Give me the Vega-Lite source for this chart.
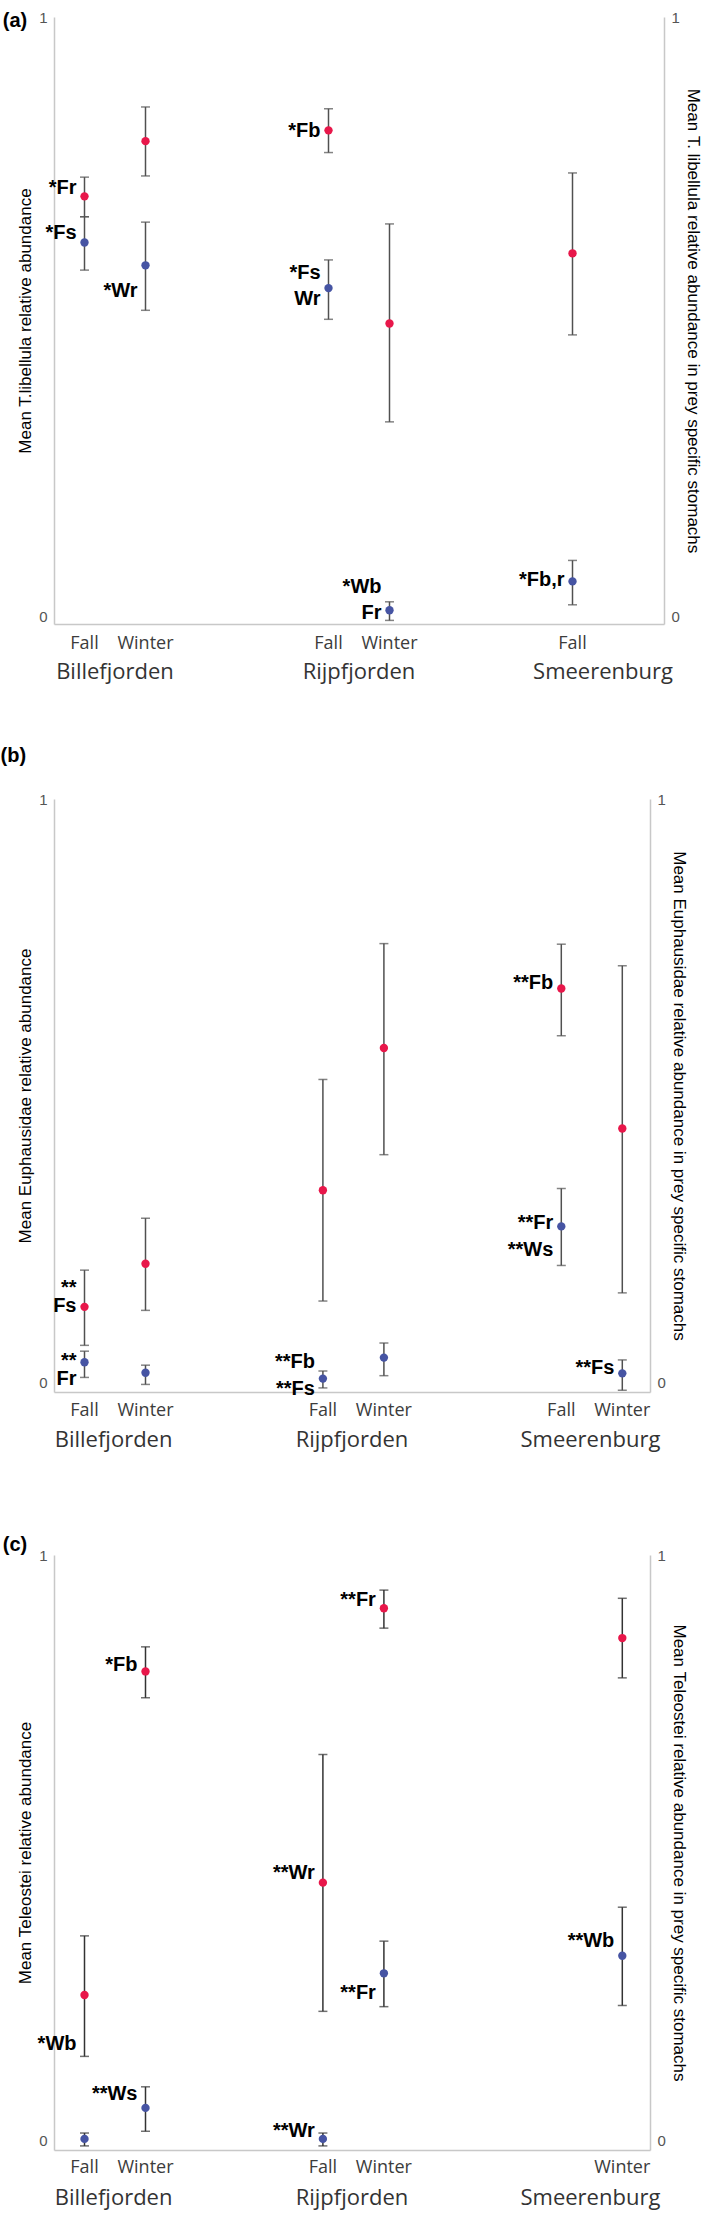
{
  "$schema": "https://vega.github.io/schema/vega-lite/v6.json",
  "padding": {"left": 0, "top": 10, "right": 0, "bottom": 6},
  "background": "white",
  "config": {
    "view": {"stroke": null},
    "axisX": {"grid": false, "ticks": false, "domainColor": "#c8c8c8", "domainWidth": 1.5, "labelAngle": 0, "labelFont": "Open Sans", "labelFontSize": 22, "labelColor": "#333333", "labelPadding": 37, "labelLimit": 0}
  },
  "datasets": {
    "a": [
      {"fjord": "Billefjorden", "season": "Fall", "series": "blue", "mean": 0.624, "lo": 0.578, "hi": 0.667},
      {"fjord": "Billefjorden", "season": "Fall", "series": "red", "mean": 0.701, "lo": 0.667, "hi": 0.733},
      {"fjord": "Billefjorden", "season": "Winter", "series": "blue", "mean": 0.586, "lo": 0.511, "hi": 0.658},
      {"fjord": "Billefjorden", "season": "Winter", "series": "red", "mean": 0.793, "lo": 0.735, "hi": 0.85},
      {"fjord": "Rijpfjorden", "season": "Fall", "series": "blue", "mean": 0.548, "lo": 0.496, "hi": 0.595},
      {"fjord": "Rijpfjorden", "season": "Fall", "series": "red", "mean": 0.811, "lo": 0.774, "hi": 0.847},
      {"fjord": "Rijpfjorden", "season": "Winter", "series": "blue", "mean": 0.011, "lo": -0.006, "hi": 0.025},
      {"fjord": "Rijpfjorden", "season": "Winter", "series": "red", "mean": 0.489, "lo": 0.325, "hi": 0.655},
      {"fjord": "Smeerenburg", "season": "Fall", "series": "blue", "mean": 0.059, "lo": 0.02, "hi": 0.094},
      {"fjord": "Smeerenburg", "season": "Fall", "series": "red", "mean": 0.606, "lo": 0.47, "hi": 0.74}
    ],
    "annA": [
      {"fjord": "Billefjorden", "season": "Fall", "label": "*Fr", "level": 0.715},
      {"fjord": "Billefjorden", "season": "Fall", "label": "*Fs", "level": 0.64},
      {"fjord": "Billefjorden", "season": "Winter", "label": "*Wr", "level": 0.544},
      {"fjord": "Rijpfjorden", "season": "Fall", "label": "*Fb", "level": 0.81},
      {"fjord": "Rijpfjorden", "season": "Fall", "label": "*Fs", "level": 0.574},
      {"fjord": "Rijpfjorden", "season": "Fall", "label": "Wr", "level": 0.53},
      {"fjord": "Rijpfjorden", "season": "Winter", "label": "*Wb", "level": 0.05},
      {"fjord": "Rijpfjorden", "season": "Winter", "label": "Fr", "level": 0.006},
      {"fjord": "Smeerenburg", "season": "Fall", "label": "*Fb,r", "level": 0.061}
    ],
    "b": [
      {"fjord": "Billefjorden", "season": "Fall", "series": "blue", "mean": 0.034, "lo": 0.008, "hi": 0.053},
      {"fjord": "Billefjorden", "season": "Fall", "series": "red", "mean": 0.129, "lo": 0.063, "hi": 0.192},
      {"fjord": "Billefjorden", "season": "Winter", "series": "blue", "mean": 0.016, "lo": -0.004, "hi": 0.029},
      {"fjord": "Billefjorden", "season": "Winter", "series": "red", "mean": 0.203, "lo": 0.123, "hi": 0.281},
      {"fjord": "Rijpfjorden", "season": "Fall", "series": "blue", "mean": 0.006, "lo": -0.01, "hi": 0.019},
      {"fjord": "Rijpfjorden", "season": "Fall", "series": "red", "mean": 0.329, "lo": 0.139, "hi": 0.519},
      {"fjord": "Rijpfjorden", "season": "Winter", "series": "blue", "mean": 0.042, "lo": 0.011, "hi": 0.067},
      {"fjord": "Rijpfjorden", "season": "Winter", "series": "red", "mean": 0.573, "lo": 0.39, "hi": 0.752},
      {"fjord": "Smeerenburg", "season": "Fall", "series": "blue", "mean": 0.267, "lo": 0.2, "hi": 0.332},
      {"fjord": "Smeerenburg", "season": "Fall", "series": "red", "mean": 0.675, "lo": 0.594, "hi": 0.751},
      {"fjord": "Smeerenburg", "season": "Winter", "series": "blue", "mean": 0.015, "lo": -0.014, "hi": 0.038},
      {"fjord": "Smeerenburg", "season": "Winter", "series": "red", "mean": 0.435, "lo": 0.153, "hi": 0.714}
    ],
    "annB": [
      {"fjord": "Billefjorden", "season": "Fall", "label": "**\nFs", "level": 0.161},
      {"fjord": "Billefjorden", "season": "Fall", "label": "**\nFr", "level": 0.036},
      {"fjord": "Rijpfjorden", "season": "Fall", "label": "**Fb", "level": 0.034},
      {"fjord": "Rijpfjorden", "season": "Fall", "label": "**Fs", "level": -0.012},
      {"fjord": "Smeerenburg", "season": "Fall", "label": "**Fb", "level": 0.685},
      {"fjord": "Smeerenburg", "season": "Fall", "label": "**Fr", "level": 0.273},
      {"fjord": "Smeerenburg", "season": "Fall", "label": "**Ws", "level": 0.227},
      {"fjord": "Smeerenburg", "season": "Winter", "label": "**Fs", "level": 0.024}
    ],
    "c": [
      {"fjord": "Billefjorden", "season": "Fall", "series": "blue", "mean": 0.002, "lo": -0.01, "hi": 0.012},
      {"fjord": "Billefjorden", "season": "Fall", "series": "red", "mean": 0.248, "lo": 0.143, "hi": 0.349},
      {"fjord": "Billefjorden", "season": "Winter", "series": "blue", "mean": 0.055, "lo": 0.015, "hi": 0.091},
      {"fjord": "Billefjorden", "season": "Winter", "series": "red", "mean": 0.801, "lo": 0.756, "hi": 0.843},
      {"fjord": "Rijpfjorden", "season": "Fall", "series": "blue", "mean": 0.002, "lo": -0.01, "hi": 0.012},
      {"fjord": "Rijpfjorden", "season": "Fall", "series": "red", "mean": 0.44, "lo": 0.22, "hi": 0.659},
      {"fjord": "Rijpfjorden", "season": "Winter", "series": "blue", "mean": 0.285, "lo": 0.228, "hi": 0.34},
      {"fjord": "Rijpfjorden", "season": "Winter", "series": "red", "mean": 0.909, "lo": 0.875, "hi": 0.94},
      {"fjord": "Smeerenburg", "season": "Winter", "series": "blue", "mean": 0.315, "lo": 0.23, "hi": 0.398},
      {"fjord": "Smeerenburg", "season": "Winter", "series": "red", "mean": 0.858, "lo": 0.79, "hi": 0.926}
    ],
    "annC": [
      {"fjord": "Billefjorden", "season": "Winter", "label": "*Fb", "level": 0.812},
      {"fjord": "Billefjorden", "season": "Fall", "label": "*Wb", "level": 0.164},
      {"fjord": "Billefjorden", "season": "Winter", "label": "**Ws", "level": 0.078},
      {"fjord": "Rijpfjorden", "season": "Fall", "label": "**Wr", "level": 0.456},
      {"fjord": "Rijpfjorden", "season": "Fall", "label": "**Wr", "level": 0.016},
      {"fjord": "Rijpfjorden", "season": "Winter", "label": "**Fr", "level": 0.923},
      {"fjord": "Rijpfjorden", "season": "Winter", "label": "**Fr", "level": 0.252},
      {"fjord": "Smeerenburg", "season": "Winter", "label": "**Wb", "level": 0.341}
    ]
  },
  "spacing": 64,
  "vconcat": [
    {
      "title": {"text": "(a)", "orient": "left", "anchor": "end", "frame": "group", "angle": 0, "align": "right", "baseline": "middle", "offset": -9, "dx": 26, "dy": 4, "font": "Liberation Sans", "fontSize": 20, "fontWeight": "bold", "color": "#000000"},
      "width": 610,
      "height": 607,
      "data": {"name": "a"},
      "resolve": {"scale": {"y": "independent"}},
      "layer": [
        {
          "layer": [
            {"transform": [{"filter": "datum.series === 'blue'"}], "mark": {"type": "rule", "color": "#505050", "strokeWidth": 1.5},
             "encoding": {"x": {"field": "fjord", "type": "nominal", "title": null, "scale": {"domain": ["Billefjorden", "Rijpfjorden", "Smeerenburg"], "paddingInner": 0.5, "paddingOuter": 0}},
                          "xOffset": {"field": "season", "type": "nominal", "title": null, "scale": {"type": "point", "domain": ["Fall", "Winter"], "padding": 0.5}},
                          "y": {"field": "lo", "type": "quantitative", "scale": {"domain": [-0.012, 1], "nice": false, "zero": false}, "axis": {"orient": "left", "values": [0, 1], "format": "d", "title": "Mean T.libellula relative abundance", "grid": false, "ticks": false, "domainColor": "#c8c8c8", "domainWidth": 1.5, "labelFont": "Liberation Sans", "labelFontSize": 15, "labelColor": "#555555", "labelPadding": 7, "labelFlush": false, "titleFont": "Liberation Sans", "titleFontSize": 17, "titleFontWeight": "normal", "titleColor": "#000000", "titlePadding": 4}},
                          "y2": {"field": "hi"}}},
            {"transform": [{"filter": "datum.series === 'blue'"}], "mark": {"type": "tick", "orient": "horizontal", "size": 9, "thickness": 1.5, "color": "#505050"},
             "encoding": {"x": {"field": "fjord", "type": "nominal", "title": null, "scale": {"domain": ["Billefjorden", "Rijpfjorden", "Smeerenburg"], "paddingInner": 0.5, "paddingOuter": 0}},
                          "xOffset": {"field": "season", "type": "nominal", "title": null, "scale": {"type": "point", "domain": ["Fall", "Winter"], "padding": 0.5}},
                          "y": {"field": "lo", "type": "quantitative", "scale": {"domain": [-0.012, 1], "nice": false, "zero": false}, "axis": {"orient": "left", "values": [0, 1], "format": "d", "title": "Mean T.libellula relative abundance", "grid": false, "ticks": false, "domainColor": "#c8c8c8", "domainWidth": 1.5, "labelFont": "Liberation Sans", "labelFontSize": 15, "labelColor": "#555555", "labelPadding": 7, "labelFlush": false, "titleFont": "Liberation Sans", "titleFontSize": 17, "titleFontWeight": "normal", "titleColor": "#000000", "titlePadding": 4}}}},
            {"transform": [{"filter": "datum.series === 'blue'"}], "mark": {"type": "tick", "orient": "horizontal", "size": 9, "thickness": 1.5, "color": "#505050"},
             "encoding": {"x": {"field": "fjord", "type": "nominal", "title": null, "scale": {"domain": ["Billefjorden", "Rijpfjorden", "Smeerenburg"], "paddingInner": 0.5, "paddingOuter": 0}},
                          "xOffset": {"field": "season", "type": "nominal", "title": null, "scale": {"type": "point", "domain": ["Fall", "Winter"], "padding": 0.5}},
                          "y": {"field": "hi", "type": "quantitative", "scale": {"domain": [-0.012, 1], "nice": false, "zero": false}, "axis": {"orient": "left", "values": [0, 1], "format": "d", "title": "Mean T.libellula relative abundance", "grid": false, "ticks": false, "domainColor": "#c8c8c8", "domainWidth": 1.5, "labelFont": "Liberation Sans", "labelFontSize": 15, "labelColor": "#555555", "labelPadding": 7, "labelFlush": false, "titleFont": "Liberation Sans", "titleFontSize": 17, "titleFontWeight": "normal", "titleColor": "#000000", "titlePadding": 4}}}},
            {"transform": [{"filter": "datum.series === 'blue'"}], "mark": {"type": "circle", "size": 70, "color": "#4654a3", "opacity": 1},
             "encoding": {"x": {"field": "fjord", "type": "nominal", "title": null, "scale": {"domain": ["Billefjorden", "Rijpfjorden", "Smeerenburg"], "paddingInner": 0.5, "paddingOuter": 0}},
                          "xOffset": {"field": "season", "type": "nominal", "title": null, "scale": {"type": "point", "domain": ["Fall", "Winter"], "padding": 0.5}},
                          "y": {"field": "mean", "type": "quantitative", "scale": {"domain": [-0.012, 1], "nice": false, "zero": false}, "axis": {"orient": "left", "values": [0, 1], "format": "d", "title": "Mean T.libellula relative abundance", "grid": false, "ticks": false, "domainColor": "#c8c8c8", "domainWidth": 1.5, "labelFont": "Liberation Sans", "labelFontSize": 15, "labelColor": "#555555", "labelPadding": 7, "labelFlush": false, "titleFont": "Liberation Sans", "titleFontSize": 17, "titleFontWeight": "normal", "titleColor": "#000000", "titlePadding": 4}}}},
            {"transform": [{"filter": "datum.series === 'blue'"}], "mark": {"type": "text", "dy": 27, "baseline": "middle", "font": "Open Sans", "fontSize": 18, "color": "#3c3c3c"},
             "encoding": {"x": {"field": "fjord", "type": "nominal", "title": null, "scale": {"domain": ["Billefjorden", "Rijpfjorden", "Smeerenburg"], "paddingInner": 0.5, "paddingOuter": 0}},
                          "xOffset": {"field": "season", "type": "nominal", "title": null, "scale": {"type": "point", "domain": ["Fall", "Winter"], "padding": 0.5}},
                          "y": {"datum": 0, "type": "quantitative", "scale": {"domain": [-0.012, 1], "nice": false, "zero": false}, "axis": {"orient": "left", "values": [0, 1], "format": "d", "title": "Mean T.libellula relative abundance", "grid": false, "ticks": false, "domainColor": "#c8c8c8", "domainWidth": 1.5, "labelFont": "Liberation Sans", "labelFontSize": 15, "labelColor": "#555555", "labelPadding": 7, "labelFlush": false, "titleFont": "Liberation Sans", "titleFontSize": 17, "titleFontWeight": "normal", "titleColor": "#000000", "titlePadding": 4}},
                          "text": {"field": "season"}}},
            {"data": {"name": "annA"}, "mark": {"type": "text", "align": "right", "dx": -8, "baseline": "middle", "font": "Liberation Sans", "fontSize": 20, "fontWeight": "bold", "color": "#000000", "lineBreak": "\n", "lineHeight": 20},
             "encoding": {"x": {"field": "fjord", "type": "nominal", "title": null, "scale": {"domain": ["Billefjorden", "Rijpfjorden", "Smeerenburg"], "paddingInner": 0.5, "paddingOuter": 0}},
                          "xOffset": {"field": "season", "type": "nominal", "title": null, "scale": {"type": "point", "domain": ["Fall", "Winter"], "padding": 0.5}},
                          "y": {"field": "level", "type": "quantitative", "scale": {"domain": [-0.012, 1], "nice": false, "zero": false}, "axis": {"orient": "left", "values": [0, 1], "format": "d", "title": "Mean T.libellula relative abundance", "grid": false, "ticks": false, "domainColor": "#c8c8c8", "domainWidth": 1.5, "labelFont": "Liberation Sans", "labelFontSize": 15, "labelColor": "#555555", "labelPadding": 7, "labelFlush": false, "titleFont": "Liberation Sans", "titleFontSize": 17, "titleFontWeight": "normal", "titleColor": "#000000", "titlePadding": 4}},
                          "text": {"field": "label"}}}
          ]
        },
        {
          "layer": [
            {"transform": [{"filter": "datum.series === 'red'"}], "mark": {"type": "rule", "color": "#505050", "strokeWidth": 1.5},
             "encoding": {"x": {"field": "fjord", "type": "nominal", "title": null, "scale": {"domain": ["Billefjorden", "Rijpfjorden", "Smeerenburg"], "paddingInner": 0.5, "paddingOuter": 0}},
                          "xOffset": {"field": "season", "type": "nominal", "title": null, "scale": {"type": "point", "domain": ["Fall", "Winter"], "padding": 0.5}},
                          "y": {"field": "lo", "type": "quantitative", "scale": {"domain": [-0.012, 1], "nice": false, "zero": false}, "axis": {"orient": "right", "values": [0, 1], "format": "d", "title": "Mean T. libellula relative abundance in prey specific stomachs", "grid": false, "ticks": false, "domainColor": "#c8c8c8", "domainWidth": 1.5, "labelFont": "Liberation Sans", "labelFontSize": 15, "labelColor": "#555555", "labelPadding": 7, "labelFlush": false, "titleFont": "Liberation Sans", "titleFontSize": 17, "titleFontWeight": "normal", "titleColor": "#000000", "titlePadding": 4}},
                          "y2": {"field": "hi"}}},
            {"transform": [{"filter": "datum.series === 'red'"}], "mark": {"type": "tick", "orient": "horizontal", "size": 9, "thickness": 1.5, "color": "#505050"},
             "encoding": {"x": {"field": "fjord", "type": "nominal", "title": null, "scale": {"domain": ["Billefjorden", "Rijpfjorden", "Smeerenburg"], "paddingInner": 0.5, "paddingOuter": 0}},
                          "xOffset": {"field": "season", "type": "nominal", "title": null, "scale": {"type": "point", "domain": ["Fall", "Winter"], "padding": 0.5}},
                          "y": {"field": "lo", "type": "quantitative", "scale": {"domain": [-0.012, 1], "nice": false, "zero": false}, "axis": {"orient": "right", "values": [0, 1], "format": "d", "title": "Mean T. libellula relative abundance in prey specific stomachs", "grid": false, "ticks": false, "domainColor": "#c8c8c8", "domainWidth": 1.5, "labelFont": "Liberation Sans", "labelFontSize": 15, "labelColor": "#555555", "labelPadding": 7, "labelFlush": false, "titleFont": "Liberation Sans", "titleFontSize": 17, "titleFontWeight": "normal", "titleColor": "#000000", "titlePadding": 4}}}},
            {"transform": [{"filter": "datum.series === 'red'"}], "mark": {"type": "tick", "orient": "horizontal", "size": 9, "thickness": 1.5, "color": "#505050"},
             "encoding": {"x": {"field": "fjord", "type": "nominal", "title": null, "scale": {"domain": ["Billefjorden", "Rijpfjorden", "Smeerenburg"], "paddingInner": 0.5, "paddingOuter": 0}},
                          "xOffset": {"field": "season", "type": "nominal", "title": null, "scale": {"type": "point", "domain": ["Fall", "Winter"], "padding": 0.5}},
                          "y": {"field": "hi", "type": "quantitative", "scale": {"domain": [-0.012, 1], "nice": false, "zero": false}, "axis": {"orient": "right", "values": [0, 1], "format": "d", "title": "Mean T. libellula relative abundance in prey specific stomachs", "grid": false, "ticks": false, "domainColor": "#c8c8c8", "domainWidth": 1.5, "labelFont": "Liberation Sans", "labelFontSize": 15, "labelColor": "#555555", "labelPadding": 7, "labelFlush": false, "titleFont": "Liberation Sans", "titleFontSize": 17, "titleFontWeight": "normal", "titleColor": "#000000", "titlePadding": 4}}}},
            {"transform": [{"filter": "datum.series === 'red'"}], "mark": {"type": "circle", "size": 70, "color": "#e8174a", "opacity": 1},
             "encoding": {"x": {"field": "fjord", "type": "nominal", "title": null, "scale": {"domain": ["Billefjorden", "Rijpfjorden", "Smeerenburg"], "paddingInner": 0.5, "paddingOuter": 0}},
                          "xOffset": {"field": "season", "type": "nominal", "title": null, "scale": {"type": "point", "domain": ["Fall", "Winter"], "padding": 0.5}},
                          "y": {"field": "mean", "type": "quantitative", "scale": {"domain": [-0.012, 1], "nice": false, "zero": false}, "axis": {"orient": "right", "values": [0, 1], "format": "d", "title": "Mean T. libellula relative abundance in prey specific stomachs", "grid": false, "ticks": false, "domainColor": "#c8c8c8", "domainWidth": 1.5, "labelFont": "Liberation Sans", "labelFontSize": 15, "labelColor": "#555555", "labelPadding": 7, "labelFlush": false, "titleFont": "Liberation Sans", "titleFontSize": 17, "titleFontWeight": "normal", "titleColor": "#000000", "titlePadding": 4}}}}
          ]
        }
      ]
    },
    {
      "spacing": 85,
      "vconcat": [
        {
          "title": {"text": "(b)", "orient": "left", "anchor": "end", "frame": "group", "angle": 0, "align": "right", "baseline": "middle", "offset": -9, "dx": 26, "dy": -43, "font": "Liberation Sans", "fontSize": 20, "fontWeight": "bold", "color": "#000000"},
          "width": 596,
          "height": 593,
          "data": {"name": "b"},
          "resolve": {"scale": {"y": "independent"}},
          "layer": [
            {
              "layer": [
                {"transform": [{"filter": "datum.series === 'blue'"}], "mark": {"type": "rule", "color": "#505050", "strokeWidth": 1.5},
                 "encoding": {"x": {"field": "fjord", "type": "nominal", "title": null, "scale": {"domain": ["Billefjorden", "Rijpfjorden", "Smeerenburg"], "paddingInner": 0.5, "paddingOuter": 0}},
                              "xOffset": {"field": "season", "type": "nominal", "title": null, "scale": {"type": "point", "domain": ["Fall", "Winter"], "padding": 0.5}},
                              "y": {"field": "lo", "type": "quantitative", "scale": {"domain": [-0.017, 1], "nice": false, "zero": false}, "axis": {"orient": "left", "values": [0, 1], "format": "d", "title": "Mean Euphausidae relative abundance", "grid": false, "ticks": false, "domainColor": "#c8c8c8", "domainWidth": 1.5, "labelFont": "Liberation Sans", "labelFontSize": 15, "labelColor": "#555555", "labelPadding": 7, "labelFlush": false, "titleFont": "Liberation Sans", "titleFontSize": 17, "titleFontWeight": "normal", "titleColor": "#000000", "titlePadding": 4}},
                              "y2": {"field": "hi"}}},
                {"transform": [{"filter": "datum.series === 'blue'"}], "mark": {"type": "tick", "orient": "horizontal", "size": 9, "thickness": 1.5, "color": "#505050"},
                 "encoding": {"x": {"field": "fjord", "type": "nominal", "title": null, "scale": {"domain": ["Billefjorden", "Rijpfjorden", "Smeerenburg"], "paddingInner": 0.5, "paddingOuter": 0}},
                              "xOffset": {"field": "season", "type": "nominal", "title": null, "scale": {"type": "point", "domain": ["Fall", "Winter"], "padding": 0.5}},
                              "y": {"field": "lo", "type": "quantitative", "scale": {"domain": [-0.017, 1], "nice": false, "zero": false}, "axis": {"orient": "left", "values": [0, 1], "format": "d", "title": "Mean Euphausidae relative abundance", "grid": false, "ticks": false, "domainColor": "#c8c8c8", "domainWidth": 1.5, "labelFont": "Liberation Sans", "labelFontSize": 15, "labelColor": "#555555", "labelPadding": 7, "labelFlush": false, "titleFont": "Liberation Sans", "titleFontSize": 17, "titleFontWeight": "normal", "titleColor": "#000000", "titlePadding": 4}}}},
                {"transform": [{"filter": "datum.series === 'blue'"}], "mark": {"type": "tick", "orient": "horizontal", "size": 9, "thickness": 1.5, "color": "#505050"},
                 "encoding": {"x": {"field": "fjord", "type": "nominal", "title": null, "scale": {"domain": ["Billefjorden", "Rijpfjorden", "Smeerenburg"], "paddingInner": 0.5, "paddingOuter": 0}},
                              "xOffset": {"field": "season", "type": "nominal", "title": null, "scale": {"type": "point", "domain": ["Fall", "Winter"], "padding": 0.5}},
                              "y": {"field": "hi", "type": "quantitative", "scale": {"domain": [-0.017, 1], "nice": false, "zero": false}, "axis": {"orient": "left", "values": [0, 1], "format": "d", "title": "Mean Euphausidae relative abundance", "grid": false, "ticks": false, "domainColor": "#c8c8c8", "domainWidth": 1.5, "labelFont": "Liberation Sans", "labelFontSize": 15, "labelColor": "#555555", "labelPadding": 7, "labelFlush": false, "titleFont": "Liberation Sans", "titleFontSize": 17, "titleFontWeight": "normal", "titleColor": "#000000", "titlePadding": 4}}}},
                {"transform": [{"filter": "datum.series === 'blue'"}], "mark": {"type": "circle", "size": 70, "color": "#4654a3", "opacity": 1},
                 "encoding": {"x": {"field": "fjord", "type": "nominal", "title": null, "scale": {"domain": ["Billefjorden", "Rijpfjorden", "Smeerenburg"], "paddingInner": 0.5, "paddingOuter": 0}},
                              "xOffset": {"field": "season", "type": "nominal", "title": null, "scale": {"type": "point", "domain": ["Fall", "Winter"], "padding": 0.5}},
                              "y": {"field": "mean", "type": "quantitative", "scale": {"domain": [-0.017, 1], "nice": false, "zero": false}, "axis": {"orient": "left", "values": [0, 1], "format": "d", "title": "Mean Euphausidae relative abundance", "grid": false, "ticks": false, "domainColor": "#c8c8c8", "domainWidth": 1.5, "labelFont": "Liberation Sans", "labelFontSize": 15, "labelColor": "#555555", "labelPadding": 7, "labelFlush": false, "titleFont": "Liberation Sans", "titleFontSize": 17, "titleFontWeight": "normal", "titleColor": "#000000", "titlePadding": 4}}}},
                {"transform": [{"filter": "datum.series === 'blue'"}], "mark": {"type": "text", "dy": 29, "baseline": "middle", "font": "Open Sans", "fontSize": 18, "color": "#3c3c3c"},
                 "encoding": {"x": {"field": "fjord", "type": "nominal", "title": null, "scale": {"domain": ["Billefjorden", "Rijpfjorden", "Smeerenburg"], "paddingInner": 0.5, "paddingOuter": 0}},
                              "xOffset": {"field": "season", "type": "nominal", "title": null, "scale": {"type": "point", "domain": ["Fall", "Winter"], "padding": 0.5}},
                              "y": {"datum": 0, "type": "quantitative", "scale": {"domain": [-0.017, 1], "nice": false, "zero": false}, "axis": {"orient": "left", "values": [0, 1], "format": "d", "title": "Mean Euphausidae relative abundance", "grid": false, "ticks": false, "domainColor": "#c8c8c8", "domainWidth": 1.5, "labelFont": "Liberation Sans", "labelFontSize": 15, "labelColor": "#555555", "labelPadding": 7, "labelFlush": false, "titleFont": "Liberation Sans", "titleFontSize": 17, "titleFontWeight": "normal", "titleColor": "#000000", "titlePadding": 4}},
                              "text": {"field": "season"}}},
                {"data": {"name": "annB"}, "mark": {"type": "text", "align": "right", "dx": -8, "baseline": "middle", "font": "Liberation Sans", "fontSize": 20, "fontWeight": "bold", "color": "#000000", "lineBreak": "\n", "lineHeight": 18},
                 "encoding": {"x": {"field": "fjord", "type": "nominal", "title": null, "scale": {"domain": ["Billefjorden", "Rijpfjorden", "Smeerenburg"], "paddingInner": 0.5, "paddingOuter": 0}},
                              "xOffset": {"field": "season", "type": "nominal", "title": null, "scale": {"type": "point", "domain": ["Fall", "Winter"], "padding": 0.5}},
                              "y": {"field": "level", "type": "quantitative", "scale": {"domain": [-0.017, 1], "nice": false, "zero": false}, "axis": {"orient": "left", "values": [0, 1], "format": "d", "title": "Mean Euphausidae relative abundance", "grid": false, "ticks": false, "domainColor": "#c8c8c8", "domainWidth": 1.5, "labelFont": "Liberation Sans", "labelFontSize": 15, "labelColor": "#555555", "labelPadding": 7, "labelFlush": false, "titleFont": "Liberation Sans", "titleFontSize": 17, "titleFontWeight": "normal", "titleColor": "#000000", "titlePadding": 4}},
                              "text": {"field": "label"}}}
              ]
            },
            {
              "layer": [
                {"transform": [{"filter": "datum.series === 'red'"}], "mark": {"type": "rule", "color": "#505050", "strokeWidth": 1.5},
                 "encoding": {"x": {"field": "fjord", "type": "nominal", "title": null, "scale": {"domain": ["Billefjorden", "Rijpfjorden", "Smeerenburg"], "paddingInner": 0.5, "paddingOuter": 0}},
                              "xOffset": {"field": "season", "type": "nominal", "title": null, "scale": {"type": "point", "domain": ["Fall", "Winter"], "padding": 0.5}},
                              "y": {"field": "lo", "type": "quantitative", "scale": {"domain": [-0.017, 1], "nice": false, "zero": false}, "axis": {"orient": "right", "values": [0, 1], "format": "d", "title": "Mean Euphausidae relative abundance in prey specific stomachs", "grid": false, "ticks": false, "domainColor": "#c8c8c8", "domainWidth": 1.5, "labelFont": "Liberation Sans", "labelFontSize": 15, "labelColor": "#555555", "labelPadding": 7, "labelFlush": false, "titleFont": "Liberation Sans", "titleFontSize": 17, "titleFontWeight": "normal", "titleColor": "#000000", "titlePadding": 4}},
                              "y2": {"field": "hi"}}},
                {"transform": [{"filter": "datum.series === 'red'"}], "mark": {"type": "tick", "orient": "horizontal", "size": 9, "thickness": 1.5, "color": "#505050"},
                 "encoding": {"x": {"field": "fjord", "type": "nominal", "title": null, "scale": {"domain": ["Billefjorden", "Rijpfjorden", "Smeerenburg"], "paddingInner": 0.5, "paddingOuter": 0}},
                              "xOffset": {"field": "season", "type": "nominal", "title": null, "scale": {"type": "point", "domain": ["Fall", "Winter"], "padding": 0.5}},
                              "y": {"field": "lo", "type": "quantitative", "scale": {"domain": [-0.017, 1], "nice": false, "zero": false}, "axis": {"orient": "right", "values": [0, 1], "format": "d", "title": "Mean Euphausidae relative abundance in prey specific stomachs", "grid": false, "ticks": false, "domainColor": "#c8c8c8", "domainWidth": 1.5, "labelFont": "Liberation Sans", "labelFontSize": 15, "labelColor": "#555555", "labelPadding": 7, "labelFlush": false, "titleFont": "Liberation Sans", "titleFontSize": 17, "titleFontWeight": "normal", "titleColor": "#000000", "titlePadding": 4}}}},
                {"transform": [{"filter": "datum.series === 'red'"}], "mark": {"type": "tick", "orient": "horizontal", "size": 9, "thickness": 1.5, "color": "#505050"},
                 "encoding": {"x": {"field": "fjord", "type": "nominal", "title": null, "scale": {"domain": ["Billefjorden", "Rijpfjorden", "Smeerenburg"], "paddingInner": 0.5, "paddingOuter": 0}},
                              "xOffset": {"field": "season", "type": "nominal", "title": null, "scale": {"type": "point", "domain": ["Fall", "Winter"], "padding": 0.5}},
                              "y": {"field": "hi", "type": "quantitative", "scale": {"domain": [-0.017, 1], "nice": false, "zero": false}, "axis": {"orient": "right", "values": [0, 1], "format": "d", "title": "Mean Euphausidae relative abundance in prey specific stomachs", "grid": false, "ticks": false, "domainColor": "#c8c8c8", "domainWidth": 1.5, "labelFont": "Liberation Sans", "labelFontSize": 15, "labelColor": "#555555", "labelPadding": 7, "labelFlush": false, "titleFont": "Liberation Sans", "titleFontSize": 17, "titleFontWeight": "normal", "titleColor": "#000000", "titlePadding": 4}}}},
                {"transform": [{"filter": "datum.series === 'red'"}], "mark": {"type": "circle", "size": 70, "color": "#e8174a", "opacity": 1},
                 "encoding": {"x": {"field": "fjord", "type": "nominal", "title": null, "scale": {"domain": ["Billefjorden", "Rijpfjorden", "Smeerenburg"], "paddingInner": 0.5, "paddingOuter": 0}},
                              "xOffset": {"field": "season", "type": "nominal", "title": null, "scale": {"type": "point", "domain": ["Fall", "Winter"], "padding": 0.5}},
                              "y": {"field": "mean", "type": "quantitative", "scale": {"domain": [-0.017, 1], "nice": false, "zero": false}, "axis": {"orient": "right", "values": [0, 1], "format": "d", "title": "Mean Euphausidae relative abundance in prey specific stomachs", "grid": false, "ticks": false, "domainColor": "#c8c8c8", "domainWidth": 1.5, "labelFont": "Liberation Sans", "labelFontSize": 15, "labelColor": "#555555", "labelPadding": 7, "labelFlush": false, "titleFont": "Liberation Sans", "titleFontSize": 17, "titleFontWeight": "normal", "titleColor": "#000000", "titlePadding": 4}}}}
              ]
            }
          ]
        },
        {
          "title": {"text": "(c)", "orient": "left", "anchor": "end", "frame": "group", "angle": 0, "align": "right", "baseline": "middle", "offset": -9, "dx": 26, "dy": -10, "font": "Liberation Sans", "fontSize": 20, "fontWeight": "bold", "color": "#000000"},
          "width": 596,
          "height": 595,
          "data": {"name": "c"},
          "resolve": {"scale": {"y": "independent"}},
          "layer": [
            {
              "layer": [
                {"transform": [{"filter": "datum.series === 'blue'"}], "mark": {"type": "rule", "color": "#333333", "strokeWidth": 1.5},
                 "encoding": {"x": {"field": "fjord", "type": "nominal", "title": null, "scale": {"domain": ["Billefjorden", "Rijpfjorden", "Smeerenburg"], "paddingInner": 0.5, "paddingOuter": 0}},
                              "xOffset": {"field": "season", "type": "nominal", "title": null, "scale": {"type": "point", "domain": ["Fall", "Winter"], "padding": 0.5}},
                              "y": {"field": "lo", "type": "quantitative", "scale": {"domain": [-0.017, 1], "nice": false, "zero": false}, "axis": {"orient": "left", "values": [0, 1], "format": "d", "title": "Mean Teleostei relative abundance", "grid": false, "ticks": false, "domainColor": "#c8c8c8", "domainWidth": 1.5, "labelFont": "Liberation Sans", "labelFontSize": 15, "labelColor": "#555555", "labelPadding": 7, "labelFlush": false, "titleFont": "Liberation Sans", "titleFontSize": 17, "titleFontWeight": "normal", "titleColor": "#000000", "titlePadding": 4}},
                              "y2": {"field": "hi"}}},
                {"transform": [{"filter": "datum.series === 'blue'"}], "mark": {"type": "tick", "orient": "horizontal", "size": 9, "thickness": 1.5, "color": "#333333"},
                 "encoding": {"x": {"field": "fjord", "type": "nominal", "title": null, "scale": {"domain": ["Billefjorden", "Rijpfjorden", "Smeerenburg"], "paddingInner": 0.5, "paddingOuter": 0}},
                              "xOffset": {"field": "season", "type": "nominal", "title": null, "scale": {"type": "point", "domain": ["Fall", "Winter"], "padding": 0.5}},
                              "y": {"field": "lo", "type": "quantitative", "scale": {"domain": [-0.017, 1], "nice": false, "zero": false}, "axis": {"orient": "left", "values": [0, 1], "format": "d", "title": "Mean Teleostei relative abundance", "grid": false, "ticks": false, "domainColor": "#c8c8c8", "domainWidth": 1.5, "labelFont": "Liberation Sans", "labelFontSize": 15, "labelColor": "#555555", "labelPadding": 7, "labelFlush": false, "titleFont": "Liberation Sans", "titleFontSize": 17, "titleFontWeight": "normal", "titleColor": "#000000", "titlePadding": 4}}}},
                {"transform": [{"filter": "datum.series === 'blue'"}], "mark": {"type": "tick", "orient": "horizontal", "size": 9, "thickness": 1.5, "color": "#333333"},
                 "encoding": {"x": {"field": "fjord", "type": "nominal", "title": null, "scale": {"domain": ["Billefjorden", "Rijpfjorden", "Smeerenburg"], "paddingInner": 0.5, "paddingOuter": 0}},
                              "xOffset": {"field": "season", "type": "nominal", "title": null, "scale": {"type": "point", "domain": ["Fall", "Winter"], "padding": 0.5}},
                              "y": {"field": "hi", "type": "quantitative", "scale": {"domain": [-0.017, 1], "nice": false, "zero": false}, "axis": {"orient": "left", "values": [0, 1], "format": "d", "title": "Mean Teleostei relative abundance", "grid": false, "ticks": false, "domainColor": "#c8c8c8", "domainWidth": 1.5, "labelFont": "Liberation Sans", "labelFontSize": 15, "labelColor": "#555555", "labelPadding": 7, "labelFlush": false, "titleFont": "Liberation Sans", "titleFontSize": 17, "titleFontWeight": "normal", "titleColor": "#000000", "titlePadding": 4}}}},
                {"transform": [{"filter": "datum.series === 'blue'"}], "mark": {"type": "circle", "size": 70, "color": "#4654a3", "opacity": 1},
                 "encoding": {"x": {"field": "fjord", "type": "nominal", "title": null, "scale": {"domain": ["Billefjorden", "Rijpfjorden", "Smeerenburg"], "paddingInner": 0.5, "paddingOuter": 0}},
                              "xOffset": {"field": "season", "type": "nominal", "title": null, "scale": {"type": "point", "domain": ["Fall", "Winter"], "padding": 0.5}},
                              "y": {"field": "mean", "type": "quantitative", "scale": {"domain": [-0.017, 1], "nice": false, "zero": false}, "axis": {"orient": "left", "values": [0, 1], "format": "d", "title": "Mean Teleostei relative abundance", "grid": false, "ticks": false, "domainColor": "#c8c8c8", "domainWidth": 1.5, "labelFont": "Liberation Sans", "labelFontSize": 15, "labelColor": "#555555", "labelPadding": 7, "labelFlush": false, "titleFont": "Liberation Sans", "titleFontSize": 17, "titleFontWeight": "normal", "titleColor": "#000000", "titlePadding": 4}}}},
                {"transform": [{"filter": "datum.series === 'blue'"}], "mark": {"type": "text", "dy": 28, "baseline": "middle", "font": "Open Sans", "fontSize": 18, "color": "#3c3c3c"},
                 "encoding": {"x": {"field": "fjord", "type": "nominal", "title": null, "scale": {"domain": ["Billefjorden", "Rijpfjorden", "Smeerenburg"], "paddingInner": 0.5, "paddingOuter": 0}},
                              "xOffset": {"field": "season", "type": "nominal", "title": null, "scale": {"type": "point", "domain": ["Fall", "Winter"], "padding": 0.5}},
                              "y": {"datum": 0, "type": "quantitative", "scale": {"domain": [-0.017, 1], "nice": false, "zero": false}, "axis": {"orient": "left", "values": [0, 1], "format": "d", "title": "Mean Teleostei relative abundance", "grid": false, "ticks": false, "domainColor": "#c8c8c8", "domainWidth": 1.5, "labelFont": "Liberation Sans", "labelFontSize": 15, "labelColor": "#555555", "labelPadding": 7, "labelFlush": false, "titleFont": "Liberation Sans", "titleFontSize": 17, "titleFontWeight": "normal", "titleColor": "#000000", "titlePadding": 4}},
                              "text": {"field": "season"}}},
                {"data": {"name": "annC"}, "mark": {"type": "text", "align": "right", "dx": -8, "baseline": "middle", "font": "Liberation Sans", "fontSize": 20, "fontWeight": "bold", "color": "#000000", "lineBreak": "\n", "lineHeight": 18},
                 "encoding": {"x": {"field": "fjord", "type": "nominal", "title": null, "scale": {"domain": ["Billefjorden", "Rijpfjorden", "Smeerenburg"], "paddingInner": 0.5, "paddingOuter": 0}},
                              "xOffset": {"field": "season", "type": "nominal", "title": null, "scale": {"type": "point", "domain": ["Fall", "Winter"], "padding": 0.5}},
                              "y": {"field": "level", "type": "quantitative", "scale": {"domain": [-0.017, 1], "nice": false, "zero": false}, "axis": {"orient": "left", "values": [0, 1], "format": "d", "title": "Mean Teleostei relative abundance", "grid": false, "ticks": false, "domainColor": "#c8c8c8", "domainWidth": 1.5, "labelFont": "Liberation Sans", "labelFontSize": 15, "labelColor": "#555555", "labelPadding": 7, "labelFlush": false, "titleFont": "Liberation Sans", "titleFontSize": 17, "titleFontWeight": "normal", "titleColor": "#000000", "titlePadding": 4}},
                              "text": {"field": "label"}}}
              ]
            },
            {
              "layer": [
                {"transform": [{"filter": "datum.series === 'red'"}], "mark": {"type": "rule", "color": "#333333", "strokeWidth": 1.5},
                 "encoding": {"x": {"field": "fjord", "type": "nominal", "title": null, "scale": {"domain": ["Billefjorden", "Rijpfjorden", "Smeerenburg"], "paddingInner": 0.5, "paddingOuter": 0}},
                              "xOffset": {"field": "season", "type": "nominal", "title": null, "scale": {"type": "point", "domain": ["Fall", "Winter"], "padding": 0.5}},
                              "y": {"field": "lo", "type": "quantitative", "scale": {"domain": [-0.017, 1], "nice": false, "zero": false}, "axis": {"orient": "right", "values": [0, 1], "format": "d", "title": "Mean Teleostei relative abundance in prey specific stomachs", "grid": false, "ticks": false, "domainColor": "#c8c8c8", "domainWidth": 1.5, "labelFont": "Liberation Sans", "labelFontSize": 15, "labelColor": "#555555", "labelPadding": 7, "labelFlush": false, "titleFont": "Liberation Sans", "titleFontSize": 17, "titleFontWeight": "normal", "titleColor": "#000000", "titlePadding": 4}},
                              "y2": {"field": "hi"}}},
                {"transform": [{"filter": "datum.series === 'red'"}], "mark": {"type": "tick", "orient": "horizontal", "size": 9, "thickness": 1.5, "color": "#333333"},
                 "encoding": {"x": {"field": "fjord", "type": "nominal", "title": null, "scale": {"domain": ["Billefjorden", "Rijpfjorden", "Smeerenburg"], "paddingInner": 0.5, "paddingOuter": 0}},
                              "xOffset": {"field": "season", "type": "nominal", "title": null, "scale": {"type": "point", "domain": ["Fall", "Winter"], "padding": 0.5}},
                              "y": {"field": "lo", "type": "quantitative", "scale": {"domain": [-0.017, 1], "nice": false, "zero": false}, "axis": {"orient": "right", "values": [0, 1], "format": "d", "title": "Mean Teleostei relative abundance in prey specific stomachs", "grid": false, "ticks": false, "domainColor": "#c8c8c8", "domainWidth": 1.5, "labelFont": "Liberation Sans", "labelFontSize": 15, "labelColor": "#555555", "labelPadding": 7, "labelFlush": false, "titleFont": "Liberation Sans", "titleFontSize": 17, "titleFontWeight": "normal", "titleColor": "#000000", "titlePadding": 4}}}},
                {"transform": [{"filter": "datum.series === 'red'"}], "mark": {"type": "tick", "orient": "horizontal", "size": 9, "thickness": 1.5, "color": "#333333"},
                 "encoding": {"x": {"field": "fjord", "type": "nominal", "title": null, "scale": {"domain": ["Billefjorden", "Rijpfjorden", "Smeerenburg"], "paddingInner": 0.5, "paddingOuter": 0}},
                              "xOffset": {"field": "season", "type": "nominal", "title": null, "scale": {"type": "point", "domain": ["Fall", "Winter"], "padding": 0.5}},
                              "y": {"field": "hi", "type": "quantitative", "scale": {"domain": [-0.017, 1], "nice": false, "zero": false}, "axis": {"orient": "right", "values": [0, 1], "format": "d", "title": "Mean Teleostei relative abundance in prey specific stomachs", "grid": false, "ticks": false, "domainColor": "#c8c8c8", "domainWidth": 1.5, "labelFont": "Liberation Sans", "labelFontSize": 15, "labelColor": "#555555", "labelPadding": 7, "labelFlush": false, "titleFont": "Liberation Sans", "titleFontSize": 17, "titleFontWeight": "normal", "titleColor": "#000000", "titlePadding": 4}}}},
                {"transform": [{"filter": "datum.series === 'red'"}], "mark": {"type": "circle", "size": 70, "color": "#e8174a", "opacity": 1},
                 "encoding": {"x": {"field": "fjord", "type": "nominal", "title": null, "scale": {"domain": ["Billefjorden", "Rijpfjorden", "Smeerenburg"], "paddingInner": 0.5, "paddingOuter": 0}},
                              "xOffset": {"field": "season", "type": "nominal", "title": null, "scale": {"type": "point", "domain": ["Fall", "Winter"], "padding": 0.5}},
                              "y": {"field": "mean", "type": "quantitative", "scale": {"domain": [-0.017, 1], "nice": false, "zero": false}, "axis": {"orient": "right", "values": [0, 1], "format": "d", "title": "Mean Teleostei relative abundance in prey specific stomachs", "grid": false, "ticks": false, "domainColor": "#c8c8c8", "domainWidth": 1.5, "labelFont": "Liberation Sans", "labelFontSize": 15, "labelColor": "#555555", "labelPadding": 7, "labelFlush": false, "titleFont": "Liberation Sans", "titleFontSize": 17, "titleFontWeight": "normal", "titleColor": "#000000", "titlePadding": 4}}}}
              ]
            }
          ]
        }
      ]
    }
  ]
}
